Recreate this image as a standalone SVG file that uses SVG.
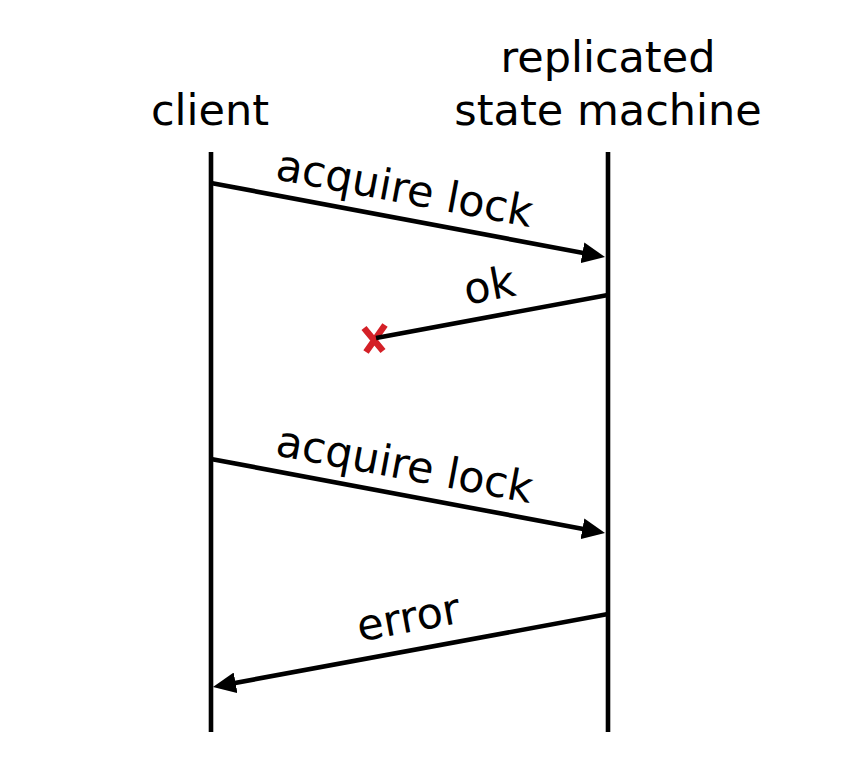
<svg xmlns="http://www.w3.org/2000/svg" width="856" height="770" viewBox="0 0 856 770">
<style>
.lbl{font-family:"DejaVu Sans","Liberation Sans",sans-serif;font-size:43px;fill:#000;text-anchor:middle}
.life{stroke:#000;stroke-width:4.6;fill:none}
.msg{stroke:#000;stroke-width:4.6;fill:none}
</style>
<defs>
<marker id="arr" viewBox="0 0 23 21" refX="13" refY="10.5" markerWidth="23" markerHeight="21" markerUnits="userSpaceOnUse" orient="auto">
<path d="M0,0 L23,10.5 L0,21 z" fill="#000"/>
</marker>
</defs>
<rect width="856" height="770" fill="#fff"/>
<g id="client">
<text class="lbl" x="210" y="125">client</text>
<line class="life" x1="211" y1="152" x2="211" y2="732"/>
</g>
<g id="rsm">
<text class="lbl" x="608" y="72">replicated</text>
<text class="lbl" x="608" y="125">state machine</text>
<line class="life" x1="608" y1="152" x2="608" y2="732"/>
</g>
<g id="lost">
<path d="M364,328 L383,351 M385,325 L366,352" stroke="#d42027" stroke-width="6.5" fill="none"/>
</g>
<g id="connectors">
<line class="msg" x1="211" y1="183" x2="595.2" y2="255.2" marker-end="url(#arr)"/>
<text class="lbl" transform="translate(402,203) rotate(10.64)">acquire lock</text>
<line class="msg" x1="608" y1="295" x2="376" y2="338"/>
<text class="lbl" transform="translate(492,300) rotate(-10.5)">ok</text>
<line class="msg" x1="211" y1="459" x2="595.2" y2="531.2" marker-end="url(#arr)"/>
<text class="lbl" transform="translate(402,479) rotate(10.64)">acquire lock</text>
<line class="msg" x1="608" y1="614" x2="222.8" y2="685.2" marker-end="url(#arr)"/>
<text class="lbl" transform="translate(411,632) rotate(-10.47)">error</text>
</g>
</svg>
